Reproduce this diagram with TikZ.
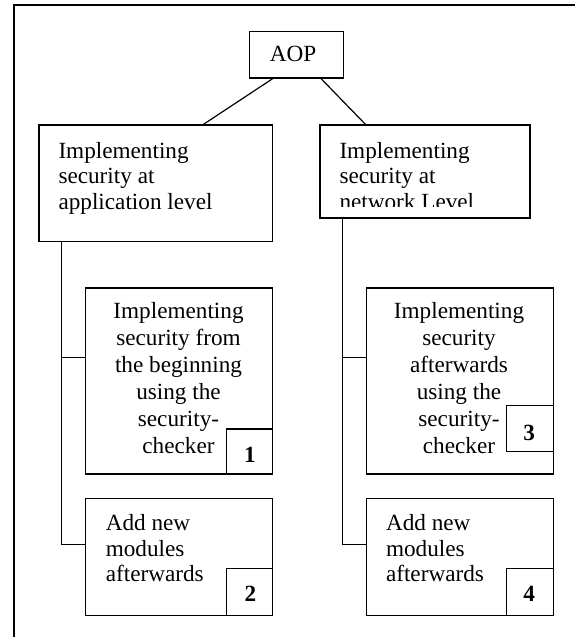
\documentclass[tikz,border=0pt]{standalone}
\usepackage{fontspec}
\setmainfont{Liberation Serif}
\usetikzlibrary{calc}
\newcommand\lftlines[2]{\vtop{\baselineskip=#1\lineskiplimit=-100pt\halign{##\hfil\cr#2\crcr}}}
\newcommand\ctrlines[2]{\vtop{\baselineskip=#1\lineskiplimit=-100pt\halign{\hfil##\hfil\cr#2\crcr}}}
\begin{document}
\begin{tikzpicture}[x=1pt,y=-1pt,
  box/.style={draw, line width=1.3pt, rectangle, inner sep=0pt, anchor=north west},
  txt/.style={inner sep=0pt, font=\fontsize{23.2}{26}\selectfont},
  num/.style={inner sep=0pt, anchor=base, font=\fontsize{23.2}{26}\selectfont\bfseries},
  conn/.style={line width=1pt},
  diag/.style={line width=1.2pt}]
\useasboundingbox (0,0) rectangle (575,637);
% outer frame
\draw[line width=2pt] (14,640) -- (14,5) -- (578,5);
% boxes
\node[box, minimum width=93.7pt, minimum height=46.6pt] (aop) at (249,30.7) {};
\node[box, minimum width=233.4pt, minimum height=116.4pt] (lb) at (38.3,124.3) {};
\node[box, minimum width=210pt, minimum height=93pt] (rb) at (319.3,124.3) {};
\node[box, minimum width=186.9pt, minimum height=186pt] (b1) at (85,287.3) {};
\node[box, minimum width=186.9pt, minimum height=186pt] (b3) at (365.6,287.3) {};
\node[box, minimum width=46.2pt, minimum height=45pt] (s1) at (225.7,428.3) {};
\node[box, minimum width=46.7pt, minimum height=46pt] (s3) at (505.8,405) {};
\node[box, minimum width=186.9pt, minimum height=116.8pt] (b2) at (85,497.7) {};
\node[box, minimum width=186.9pt, minimum height=116.8pt] (b4) at (365.6,497.7) {};
\node[box, minimum width=46.2pt, minimum height=46.8pt] (s2) at (225.7,567.7) {};
\node[box, minimum width=46.7pt, minimum height=46.8pt] (s4) at (505.8,567.7) {};
% texts
\node[txt, anchor=base] (taop) at (293,61.7) {AOP};
\node[txt, anchor=base west] (tl) at (58.3,158.3) {\lftlines{25.5pt}{Implementing\cr security at\cr application level}};
\begin{scope}
\clip (319,124) rectangle (530,206.7);
\node[txt, anchor=base west] (tr) at (339.3,158.3) {\lftlines{25.5pt}{Implementing\cr security at\cr network Level}};
\end{scope}
\node[txt, anchor=base] (t1) at (178.5,318.3) {\ctrlines{27pt}{Implementing\cr security from\cr the beginning\cr using the\cr security-\cr checker}};
\node[txt, anchor=base] (t3) at (459,318.3) {\ctrlines{27pt}{Implementing\cr security\cr afterwards\cr using the\cr security-\cr checker}};
\node[txt, anchor=base west] (t2) at (105.6,530.7) {\lftlines{25.5pt}{Add new\cr modules\cr afterwards}};
\node[txt, anchor=base west] (t4) at (385.8,530.7) {\lftlines{25.5pt}{Add new\cr modules\cr afterwards}};
% numbers
\node[num] (n1) at (250,462.7) {1};
\node[num] (n3) at (529.2,440) {3};
\node[num] (n2) at (250.5,601.7) {2};
\node[num] (n4) at (529.2,601.7) {4};
% connectors
\draw[diag] ($(aop.south west)!0.25!(aop.south east)$) -- ($(lb.north west)!0.704!(lb.north east)$);
\draw[diag] ($(aop.south west)!0.758!(aop.south east)$) -- ($(rb.north west)!0.218!(rb.north east)$);
\coordinate (jl1) at (61.7,357.7);
\coordinate (jl2) at (61.7,544.3);
\coordinate (jr1) at (342.5,357.7);
\coordinate (jr2) at (342.5,544.3);
\draw[conn] (jl1 |- lb.south) -- (jl2) -- (jl2 -| b2.west);
\draw[conn] (jl1) -- (jl1 -| b1.west);
\draw[conn] (jr1 |- rb.south) -- (jr2) -- (jr2 -| b4.west);
\draw[conn] (jr1) -- (jr1 -| b3.west);
\end{tikzpicture}
\end{document}
